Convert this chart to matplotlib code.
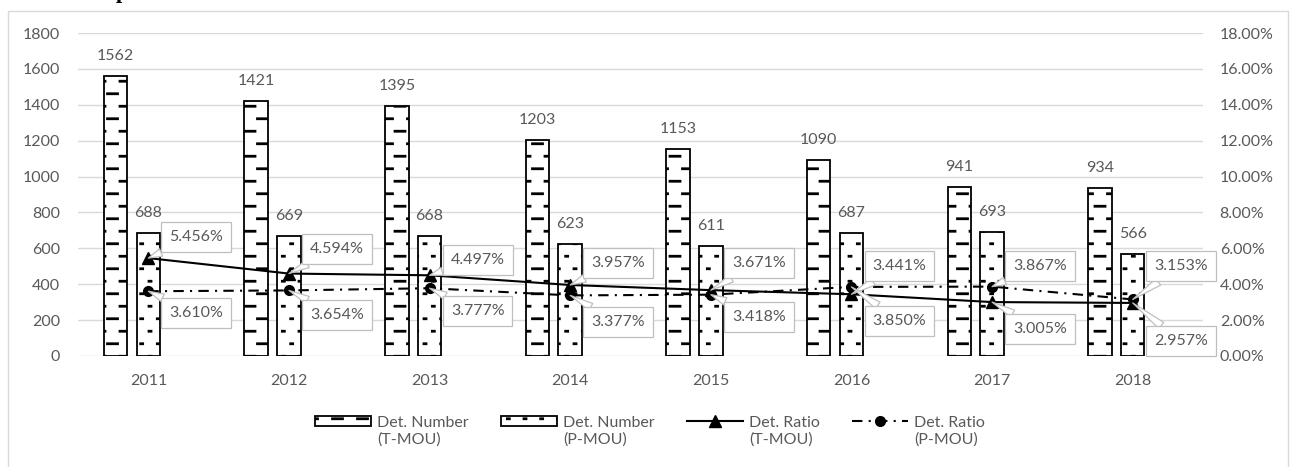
import warnings
import numpy as np
import matplotlib
matplotlib.use("Agg")
import matplotlib.pyplot as plt
from matplotlib import hatch as mhatch
from matplotlib.artist import Artist
from matplotlib.path import Path
from matplotlib.patches import Rectangle
from matplotlib.transforms import Affine2D

# custom hatch letters trigger a deprecation warning, we know
warnings.simplefilter("ignore")

years = ["2011", "2012", "2013", "2014", "2015", "2016", "2017", "2018"]
num_t = [1562, 1421, 1395, 1203, 1153, 1090, 941, 934]
num_p = [688, 669, 668, 623, 611, 687, 693, 566]
ratio_t = [5.456, 4.594, 4.497, 3.957, 3.671, 3.441, 3.005, 2.957]
ratio_p = [3.610, 3.654, 3.777, 3.377, 3.418, 3.850, 3.867, 3.153]

# where the ratio callouts sit (pixels, negative = above the point)
t_dy = [-21, -25, -15, -22, -27, -28, 27, 38]
p_dy = [22, 25, 23, 27, 22, 34, -21, -33]

GREY_TXT = "#595959"
GRID = "#D9D9D9"


class SegmentHatch(mhatch.HatchPatternBase):
    """Rows of short horizontal strokes, every other row shifted half a step."""
    key = None
    rows = 8
    cols = 4
    half = 0.05

    def __init__(self, hatch, density):
        segs = []
        if hatch.count(self.key):
            for r in range(self.rows):
                y = (r + 0.5) / self.rows
                shift = 0.5 * (r % 2)
                for c in range(-1, self.cols + 1):
                    xc = (c + shift + 0.5) / self.cols
                    segs.append([(xc - self.half, y), (xc + self.half, y)])
        self.segs = np.array(segs, dtype=float).reshape(-1, 2)
        self.num_vertices = len(self.segs)

    def set_vertices_and_codes(self, vertices, codes):
        vertices[:] = self.segs
        codes[0::2] = Path.MOVETO
        codes[1::2] = Path.LINETO


class DashRows(SegmentHatch):
    key = "D"
    rows = 8
    cols = 4
    half = 0.05


class DotRows(SegmentHatch):
    key = "S"
    rows = 8
    cols = 6
    half = 0.01


mhatch._hatch_types += [DashRows, DotRows]

plt.rcParams["font.family"] = ["Lato", "DejaVu Sans"]
plt.rcParams["hatch.linewidth"] = 2.0

fig = plt.figure(figsize=(12.9, 4.67), dpi=100)
ax = fig.add_axes([0.0605, 0.2377, 0.8721, 0.6916])
ax2 = ax.twinx()

x = np.arange(len(years))
bw = 0.167
t_off = -0.233
fs = 11.5

b1 = ax.bar(x + t_off, num_t, bw, color="white", edgecolor="black", lw=1.3,
            hatch="D", zorder=2, label="Det. Number\n(T-MOU)")
b2 = ax.bar(x, num_p, bw, color="white", edgecolor="black", lw=1.3,
            hatch="S", zorder=2, label="Det. Number\n(P-MOU)")

for xi, v in zip(x, num_t):
    ax.annotate(str(v), (xi + t_off, v), xytext=(0, 20), textcoords="offset pixels",
                ha="center", va="center", fontsize=fs, color=GREY_TXT)
for xi, v in zip(x, num_p):
    ax.annotate(str(v), (xi, v), xytext=(0, 20), textcoords="offset pixels",
                ha="center", va="center", fontsize=fs, color=GREY_TXT)

l1, = ax2.plot(x, ratio_t, color="black", lw=1.5, marker="^", ms=8,
               label="Det. Ratio\n(T-MOU)", zorder=3)
l2, = ax2.plot(x, ratio_p, color="black", lw=1.5, ls=(0, (5, 3, 1, 3)),
               marker="o", ms=7, label="Det. Ratio\n(P-MOU)", zorder=3)

box = dict(boxstyle="square,pad=0.5", fc="white", ec="#BFBFBF", lw=0.9)
arrow = dict(arrowstyle="wedge,tail_width=0.5,shrink_factor=0.5",
             fc="white", ec="#BFBFBF", lw=0.9, shrinkA=0, shrinkB=0)
for vals, dys in ((ratio_t, t_dy), (ratio_p, p_dy)):
    for xi, v, dy in zip(x, vals, dys):
        ax2.annotate(f"{v:.3f}%", (xi, v), xytext=(48, -dy),
                     textcoords="offset pixels", ha="center", va="center",
                     fontsize=fs, color=GREY_TXT, bbox=box, arrowprops=arrow,
                     zorder=4)

ax.set_xlim(-0.5, len(years) - 0.5)
ax.set_ylim(0, 1800)
ax.set_yticks(range(0, 1801, 200))
ax2.set_ylim(0, 18)
ax2.set_yticks(range(0, 19, 2))
ax2.set_yticklabels([f"{t:.2f}%" for t in range(0, 19, 2)])
ax.set_xticks(x)
ax.set_xticklabels(years)

ax.yaxis.grid(True, color=GRID, lw=1.0)
ax.set_axisbelow(True)
for a in (ax, ax2):
    for s in a.spines.values():
        s.set_visible(False)
    a.tick_params(length=0, labelsize=fs, labelcolor=GREY_TXT)
ax.tick_params(axis="y", pad=13)
ax.tick_params(axis="x", pad=13)
ax2.tick_params(axis="y", pad=12)

leg = fig.legend([b1, b2, l1, l2], [b1.get_label(), b2.get_label(),
                 l1.get_label(), l2.get_label()],
                 loc="center", bbox_to_anchor=(0.504, 0.077), ncol=4,
                 frameon=False, fontsize=fs, handlelength=3.5,
                 handleheight=0.55, handletextpad=0.4, columnspacing=2.0,
                 labelcolor=GREY_TXT)
# keys line up with the first text line
for h in leg.legend_handles:
    h.set_transform(Artist.get_transform(h) + Affine2D().translate(0, 10))

# chart area border
fig.add_artist(Rectangle((8 / 1290, -0.05), 1280 / 1290, 1.05 - 10.5 / 467,
                         transform=fig.transFigure, fill=False, ec=GRID, lw=1))
fig.text(122 / 1290, 1 + 2 / 467, "p", family="Liberation Serif",
         weight="bold", fontsize=16, ha="center", va="baseline")

fig.savefig("out.png", dpi=100)
